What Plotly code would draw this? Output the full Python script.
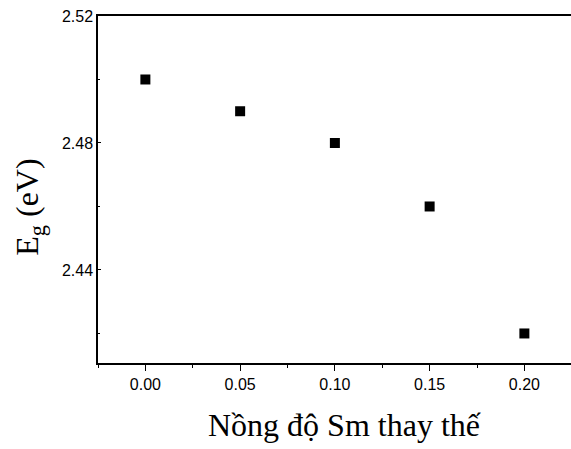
import plotly.graph_objects as go

sm_conc = [0.00, 0.05, 0.10, 0.15, 0.20]
eg_values = [2.50, 2.49, 2.48, 2.46, 2.42]

x_tickvals = [0.00, 0.05, 0.10, 0.15, 0.20]
x_ticktext = ["0.00", "0.05", "0.10", "0.15", "0.20"]
y_tickvals = [2.44, 2.48, 2.52]
y_ticktext = ["2.44", "2.48", "2.52"]

x_title = "Nồng độ Sm thay thế"
y_title = "E<sub>g</sub> (eV)"

fig = go.Figure()
fig.add_trace(go.Scatter(
    x=sm_conc, y=eg_values, mode="markers",
    marker=dict(symbol="square", size=10, color="black"),
    showlegend=False,
))

title_font = dict(family="Liberation Serif, Times New Roman, serif", size=32, color="black")

fig.update_layout(
    width=571, height=449,
    margin=dict(l=98, r=0, t=16, b=86),
    plot_bgcolor="white", paper_bgcolor="white",
    font=dict(family="Liberation Sans, Arial, sans-serif", size=16, color="black"),
    annotations=[
        dict(text=x_title, xref="paper", yref="paper", x=0.522, y=-0.18,
             xanchor="center", yanchor="middle", showarrow=False, font=title_font),
        dict(text=y_title, xref="paper", yref="paper", x=-0.144, y=0.45,
             xanchor="center", yanchor="middle", textangle=-90, showarrow=False,
             font=title_font),
    ],
)

fig.update_xaxes(
    range=[-0.025, 0.2246],
    tickvals=x_tickvals, ticktext=x_ticktext,
    ticks="outside", ticklen=6, tickwidth=1, tickcolor="black",
    minor=dict(dtick=0.025, tick0=0, ticks="outside", ticklen=3, tickcolor="black"),
    showline=True, linecolor="black", linewidth=1.5, mirror=True,
    showgrid=False, zeroline=False,
)
fig.update_yaxes(
    range=[2.4107, 2.52],
    tickvals=y_tickvals, ticktext=y_ticktext,
    ticks="inside", ticklen=3, tickwidth=1, tickcolor="black",
    minor=dict(dtick=0.02, tick0=2.40, ticks="inside", ticklen=2, tickcolor="black"),
    showline=True, linecolor="black", linewidth=1.5, mirror=False,
    showgrid=False, zeroline=False,
)

fig.write_html("out.html")
